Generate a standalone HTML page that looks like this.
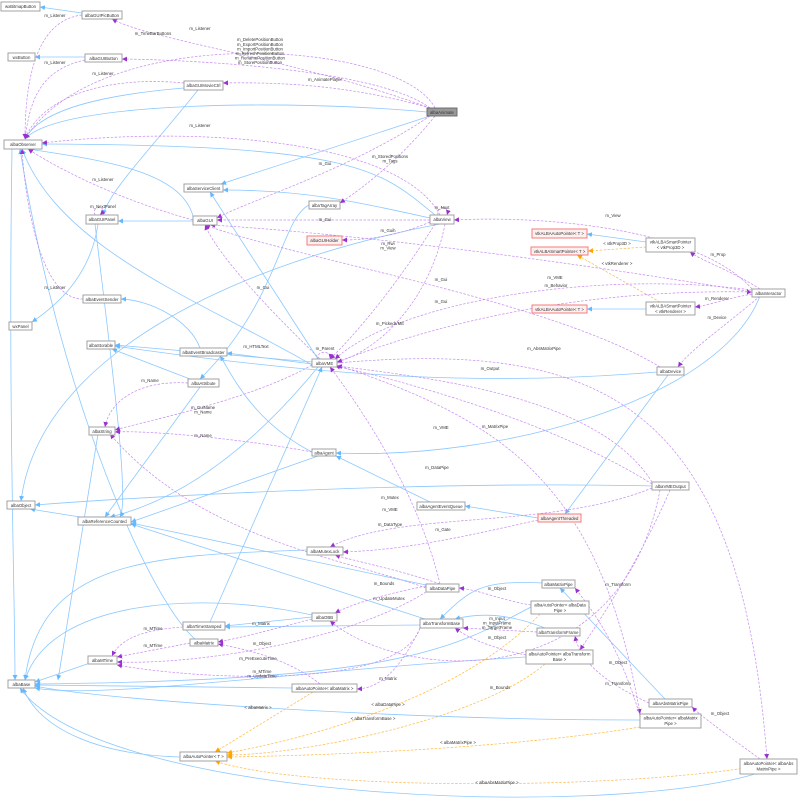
<!DOCTYPE html>
<html><head><meta charset="utf-8"><style>
html,body{margin:0;padding:0;background:#fff;}
svg{display:block;}
text{font-family:"Liberation Sans",sans-serif;font-size:4.3px;fill:#333;}
.n{fill:#fff;stroke:#999;stroke-width:0.9;}
.r{fill:#fff0f0;stroke:#f07070;stroke-width:0.9;}
.g{fill:#999;stroke:#666;stroke-width:0.9;}
.b{fill:none;stroke:#8cc8ff;stroke-width:0.8;marker-end:url(#ab);}
.p{fill:none;stroke:#c58af0;stroke-width:0.7;stroke-dasharray:2.5,1.5;marker-end:url(#ap);}
.o{fill:none;stroke:#ffb840;stroke-width:0.7;stroke-dasharray:2.5,1.5;marker-end:url(#ao);}
</style></head><body>
<svg width="799" height="804" viewBox="0 0 799 804" xmlns="http://www.w3.org/2000/svg">
<defs>
<marker id="ab" markerWidth="6" markerHeight="6" refX="5" refY="3" orient="auto" markerUnits="userSpaceOnUse"><path d="M0,0.5 L5,3 L0,5.5 z" fill="#63b8ff"/></marker>
<marker id="ap" markerWidth="6" markerHeight="6" refX="5" refY="3" orient="auto" markerUnits="userSpaceOnUse"><path d="M0,0.5 L5,3 L0,5.5 z" fill="#9a30d0"/></marker>
<marker id="ao" markerWidth="6" markerHeight="6" refX="5" refY="3" orient="auto" markerUnits="userSpaceOnUse"><path d="M0,0.5 L5,3 L0,5.5 z" fill="#ffa500"/></marker>
</defs>
<!-- blue edges -->
<path class="b" d="M82,13 L40,7"/>
<path class="b" d="M85,57 L35,57"/>
<path class="b" d="M184,88 C100,95 40,110 25,139"/>
<path class="b" d="M198,90 C150,150 110,190 103,215"/>
<path class="b" d="M427,112 C300,100 60,100 25,139"/>
<path class="b" d="M430,116 L221,184"/>
<path class="b" d="M435,215 C380,170 360,145 42,144"/>
<path class="b" d="M430,218 C350,200 300,190 223,190"/>
<path class="b" d="M193,216 C180,170 100,160 28,149"/>
<path class="b" d="M193,221 L118,221"/>
<path class="b" d="M98,224 C90,280 50,310 32,322"/>
<path class="b" d="M312,365 C200,300 60,250 22,149"/>
<path class="b" d="M312,362 L115,345"/>
<path class="b" d="M312,364 L227,353"/>
<path class="b" d="M318,367 C250,450 180,500 110,517"/>
<path class="b" d="M318,359 L210,192"/>
<path class="b" d="M309,205 C280,220 280,300 200,379"/>
<path class="b" d="M200,348 C190,320 150,300 121,299"/>
<path class="b" d="M190,379 L112,349"/>
<path class="b" d="M200,387 L105,517"/>
<path class="b" d="M98,434 L58,680"/>
<path class="b" d="M318,456 L131,522"/>
<path class="b" d="M312,452 C250,420 230,370 220,356"/>
<path class="b" d="M430,502 L336,456"/>
<path class="b" d="M538,518 L465,506"/>
<path class="b" d="M668,375 L565,514"/>
<path class="b" d="M760,296 C720,400 500,460 336,453"/>
<path class="b" d="M657,372 C500,385 350,380 115,346"/>
<path class="b" d="M652,486 C400,480 100,500 35,505"/>
<path class="b" d="M80,517 L30,509"/>
<path class="b" d="M440,224 C250,260 40,350 21,501"/>
<path class="b" d="M307,550 C150,555 40,560 25,680"/>
<path class="b" d="M426,585 L131,523"/>
<path class="b" d="M542,583 C480,580 470,590 440,619"/>
<path class="b" d="M312,617 L225,626"/>
<path class="b" d="M312,615 C200,590 50,600 25,680"/>
<path class="b" d="M210,622 L322,367"/>
<path class="b" d="M420,625 L225,627"/>
<path class="b" d="M425,619 L131,524"/>
<path class="b" d="M545,628 C500,610 470,615 455,619"/>
<path class="b" d="M195,639 C150,600 60,400 20,149"/>
<path class="b" d="M90,663 L35,682"/>
<path class="b" d="M292,688 L35,685"/>
<path class="b" d="M180,757 C100,755 40,730 23,688"/>
<path class="b" d="M755,774 C600,820 100,800 20,688"/>
<path class="b" d="M526,657 C300,670 100,700 35,688"/>
<path class="b" d="M640,720 C400,720 100,700 35,686"/>
<path class="b" d="M531,607 C450,650 400,680 35,684"/>
<path class="b" d="M665,699 L560,588"/>
<path class="b" d="M646,242 L587,234"/>
<path class="b" d="M646,309 L587,309"/>
<path class="b" d="M12,149 C8,400 15,600 15,680"/>
<path class="b" d="M95,224 C110,350 130,500 120,517"/>
<!-- orange -->
<path class="o" d="M646,247 L588,251"/>
<path class="o" d="M660,302 L577,255"/>
<path class="o" d="M313,692 L215,752"/>
<path class="o" d="M540,614 C460,700 300,740 227,753"/>
<path class="o" d="M545,664 C480,720 300,755 227,755"/>
<path class="o" d="M640,727 C500,750 300,756 227,757"/>
<path class="o" d="M745,768 C600,790 300,790 215,761"/>
<!-- purple -->
<path class="p" d="M82,15 C40,20 25,70 25,139"/>
<path class="p" d="M435,108 C400,40 100,20 25,139"/>
<path class="p" d="M430,108 C300,60 150,40 112,19"/>
<path class="p" d="M430,108 C380,70 200,60 122,59"/>
<path class="p" d="M85,60 C40,70 30,100 25,139"/>
<path class="p" d="M430,108 C350,85 280,82 223,83"/>
<path class="p" d="M184,83 C100,75 40,100 25,139"/>
<path class="p" d="M440,215 C400,140 200,125 42,143"/>
<path class="p" d="M430,116 C350,170 250,200 217,218"/>
<path class="p" d="M435,116 C400,160 360,190 340,203"/>
<path class="p" d="M193,220 C120,200 60,170 28,149"/>
<path class="p" d="M95,215 C90,205 110,205 100,215"/>
<path class="p" d="M83,299 C40,300 25,200 22,149"/>
<path class="p" d="M430,220 L217,220"/>
<path class="p" d="M430,222 C400,235 370,240 342,240"/>
<path class="p" d="M438,215 C436,205 450,205 447,215"/>
<path class="p" d="M435,224 C400,280 360,330 330,359"/>
<path class="p" d="M752,289 C700,230 550,215 454,220"/>
<path class="p" d="M760,289 C730,270 700,260 690,252"/>
<path class="p" d="M752,294 C720,300 710,305 695,307"/>
<path class="p" d="M760,296 C720,330 690,350 678,367"/>
<path class="p" d="M752,290 C600,270 400,300 335,359"/>
<path class="p" d="M337,362 C500,300 650,290 752,292"/>
<path class="p" d="M752,292 C500,250 300,230 210,225"/>
<path class="p" d="M660,367 C550,300 300,260 205,225"/>
<path class="p" d="M320,359 C280,320 220,260 205,225"/>
<path class="p" d="M445,224 C430,300 380,350 337,362"/>
<path class="p" d="M318,359 C316,350 332,350 330,359"/>
<path class="p" d="M312,365 C250,400 150,420 115,430"/>
<path class="p" d="M188,383 C140,380 110,400 105,427"/>
<path class="p" d="M312,452 C250,440 150,430 115,432"/>
<path class="p" d="M652,484 C550,420 400,380 335,366"/>
<path class="p" d="M440,584 C420,500 370,420 330,367"/>
<path class="p" d="M652,482 C600,400 450,380 337,366"/>
<path class="p" d="M337,363 C600,340 740,400 767,759"/>
<path class="p" d="M337,365 C500,420 600,480 640,714"/>
<path class="p" d="M538,520 C450,540 400,550 343,552"/>
<path class="p" d="M426,588 C350,560 200,540 110,434"/>
<path class="p" d="M426,586 C380,595 350,605 335,613"/>
<path class="p" d="M440,584 C400,570 350,560 335,555"/>
<path class="p" d="M652,488 C550,530 400,510 330,547"/>
<path class="p" d="M312,619 C270,630 240,638 218,642"/>
<path class="p" d="M183,627 C140,630 120,640 112,656"/>
<path class="p" d="M190,643 L117,657"/>
<path class="p" d="M426,592 C350,640 200,665 117,662"/>
<path class="p" d="M420,628 C400,690 200,680 117,665"/>
<path class="p" d="M320,684 C290,660 250,650 218,644"/>
<path class="p" d="M420,628 C400,670 380,688 357,689"/>
<path class="p" d="M531,605 C500,600 480,590 459,588"/>
<path class="p" d="M537,632 L463,628"/>
<path class="p" d="M526,655 C500,650 470,640 455,628"/>
<path class="p" d="M670,490 C640,560 600,620 580,650"/>
<path class="p" d="M660,490 C620,700 400,680 330,621"/>
<path class="p" d="M649,703 C600,680 580,660 575,636"/>
<path class="p" d="M640,716 C620,650 600,620 575,588"/>
<path class="p" d="M760,759 C720,730 700,715 692,707"/>
<!-- nodes -->
<rect class="n" x="1" y="2" width="39" height="9"/><text x="20.5" y="8.2" text-anchor="middle">wxBitmapButton</text>
<rect class="n" x="82" y="11" width="40" height="8"/><text x="102" y="16.8" text-anchor="middle">albaGUIPicButton</text>
<rect class="n" x="8" y="53" width="27" height="8"/><text x="21.5" y="58.8" text-anchor="middle">wxButton</text>
<rect class="n" x="85" y="54" width="37" height="8"/><text x="103.5" y="59.8" text-anchor="middle">albaGUIButton</text>
<rect class="n" x="184" y="81" width="39" height="9"/><text x="203.5" y="87.2" text-anchor="middle">albaGUIMovieCtrl</text>
<rect class="g" x="427" y="108" width="30" height="8"/><text x="442" y="113.8" text-anchor="middle">albaAnimate</text>
<rect class="n" x="4" y="140" width="38" height="9"/><text x="23" y="146.2" text-anchor="middle">albaObserver</text>
<rect class="n" x="184" y="184" width="39" height="8"/><text x="203.5" y="189.8" text-anchor="middle">albaServiceClient</text>
<rect class="n" x="309" y="201" width="31" height="8"/><text x="324.5" y="206.8" text-anchor="middle">albaTagArray</text>
<rect class="n" x="86" y="215" width="32" height="9"/><text x="102" y="221.2" text-anchor="middle">albaGUIPanel</text>
<rect class="n" x="193" y="216" width="24" height="9"/><text x="205" y="222.2" text-anchor="middle">albaGUI</text>
<rect class="n" x="430" y="215" width="24" height="9"/><text x="442" y="221.2" text-anchor="middle">albaView</text>
<rect class="r" x="307" y="236" width="35" height="9"/><text x="324.5" y="242.2" text-anchor="middle">albaGUIHolder</text>
<rect class="r" x="532" y="229" width="55" height="9"/><text x="559.5" y="235.2" text-anchor="middle">vtkALBAAutoPointer&lt; T &gt;</text>
<rect class="n" x="646" y="238" width="49" height="14"/><text x="670.5" y="243.5" text-anchor="middle">vtkALBASmartPointer</text><text x="670.5" y="249" text-anchor="middle">&lt; vtkProp3D &gt;</text>
<rect class="r" x="531" y="247" width="57" height="8"/><text x="559.5" y="252.8" text-anchor="middle">vtkALBASmartPointer&lt; T &gt;</text>
<rect class="n" x="752" y="289" width="33" height="8"/><text x="768.5" y="294.8" text-anchor="middle">albaInteractor</text>
<rect class="r" x="532" y="305" width="55" height="8"/><text x="559.5" y="310.8" text-anchor="middle">vtkALBAAutoPointer&lt; T &gt;</text>
<rect class="n" x="646" y="302" width="49" height="13"/><text x="670.5" y="307.5" text-anchor="middle">vtkALBASmartPointer</text><text x="670.5" y="313" text-anchor="middle">&lt; vtkRenderer &gt;</text>
<rect class="n" x="83" y="295" width="38" height="8"/><text x="102" y="300.8" text-anchor="middle">albaEventSender</text>
<rect class="n" x="9" y="322" width="23" height="8"/><text x="20.5" y="327.8" text-anchor="middle">wxPanel</text>
<rect class="n" x="87" y="341" width="28" height="8"/><text x="101" y="346.8" text-anchor="middle">albaStorable</text>
<rect class="n" x="180" y="348" width="47" height="8"/><text x="203.5" y="353.8" text-anchor="middle">albaEventBroadcaster</text>
<rect class="n" x="312" y="359" width="25" height="8"/><text x="324.5" y="364.8" text-anchor="middle">albaVME</text>
<rect class="n" x="188" y="379" width="31" height="8"/><text x="203.5" y="384.8" text-anchor="middle">albaAttribute</text>
<rect class="n" x="657" y="367" width="27" height="8"/><text x="670.5" y="372.8" text-anchor="middle">albaDevice</text>
<rect class="n" x="89" y="427" width="26" height="8"/><text x="102" y="432.8" text-anchor="middle">albaString</text>
<rect class="n" x="312" y="449" width="24" height="7"/><text x="324" y="454.3" text-anchor="middle">albaAgent</text>
<rect class="n" x="652" y="482" width="37" height="8"/><text x="670.5" y="487.8" text-anchor="middle">albaVMEOutput</text>
<rect class="n" x="7" y="501" width="28" height="8"/><text x="21" y="506.8" text-anchor="middle">albaObject</text>
<rect class="n" x="417" y="502" width="48" height="8"/><text x="441" y="507.8" text-anchor="middle">albaAgentEventQueue</text>
<rect class="r" x="538" y="514" width="43" height="8"/><text x="559.5" y="519.8" text-anchor="middle">albaAgentThreaded</text>
<rect class="n" x="78" y="517" width="53" height="8"/><text x="104.5" y="522.8" text-anchor="middle">albaReferenceCounted</text>
<rect class="n" x="307" y="547" width="36" height="8"/><text x="325" y="552.8" text-anchor="middle">albaMutexLock</text>
<rect class="n" x="426" y="584" width="33" height="8"/><text x="442.5" y="589.8" text-anchor="middle">albaDataPipe</text>
<rect class="n" x="542" y="580" width="33" height="8"/><text x="558.5" y="585.8" text-anchor="middle">albaMatrixPipe</text>
<rect class="n" x="531" y="601" width="58" height="13"/><text x="560" y="606.5" text-anchor="middle">albaAutoPointer&lt; albaData</text><text x="560" y="612" text-anchor="middle">Pipe &gt;</text>
<rect class="n" x="312" y="613" width="25" height="8"/><text x="324.5" y="618.8" text-anchor="middle">albaOBB</text>
<rect class="n" x="183" y="622" width="42" height="8"/><text x="204" y="627.8" text-anchor="middle">albaTimeStamped</text>
<rect class="n" x="420" y="619" width="43" height="9"/><text x="441.5" y="625.2" text-anchor="middle">albaTransformBase</text>
<rect class="n" x="537" y="628" width="43" height="8"/><text x="558.5" y="633.8" text-anchor="middle">albaTransformFrame</text>
<rect class="n" x="190" y="639" width="28" height="7"/><text x="204" y="644.3" text-anchor="middle">albaMatrix</text>
<rect class="n" x="88" y="656" width="29" height="8"/><text x="102.5" y="661.8" text-anchor="middle">albaMTime</text>
<rect class="n" x="526" y="650" width="67" height="14"/><text x="559.5" y="655.5" text-anchor="middle">albaAutoPointer&lt; albaTransform</text><text x="559.5" y="661" text-anchor="middle">Base &gt;</text>
<rect class="n" x="8" y="680" width="27" height="8"/><text x="21.5" y="685.8" text-anchor="middle">albaBase</text>
<rect class="n" x="292" y="684" width="65" height="8"/><text x="324.5" y="689.8" text-anchor="middle">albaAutoPointer&lt; albaMatrix &gt;</text>
<rect class="n" x="649" y="699" width="43" height="8"/><text x="670.5" y="704.8" text-anchor="middle">albaAbsMatrixPipe</text>
<rect class="n" x="640" y="714" width="61" height="14"/><text x="670.5" y="719.5" text-anchor="middle">albaAutoPointer&lt; albaMatrix</text><text x="670.5" y="725" text-anchor="middle">Pipe &gt;</text>
<rect class="n" x="180" y="752" width="47" height="9"/><text x="203.5" y="758.2" text-anchor="middle">albaAutoPointer&lt; T &gt;</text>
<rect class="n" x="740" y="759" width="57" height="15"/><text x="768.5" y="765" text-anchor="middle">albaAutoPointer&lt; albaAbs</text><text x="768.5" y="770.5" text-anchor="middle">MatrixPipe &gt;</text>
<!-- edge labels -->
<g text-anchor="middle">
<text x="55" y="17">m_Listener</text>
<text x="200" y="30">m_Listener</text>
<text x="153" y="35">m_TimeBarButtons</text>
<text x="260" y="41">m_DeletePositionButton</text><text x="260" y="46">m_ExportPositionButton</text><text x="260" y="50.5">m_ImportPositionButton</text><text x="260" y="55">m_RefreshPositionButton</text><text x="260" y="59.5">m_RenamePositionButton</text><text x="260" y="64">m_StorePositionButton</text>
<text x="55" y="64">m_Listener</text>
<text x="103" y="75">m_Listener</text>
<text x="325" y="81">m_AnimatePlayer</text>
<text x="200" y="127">m_Listener</text>
<text x="325" y="165">m_Gui</text>
<text x="390" y="158">m_StoredPositions</text><text x="390" y="162.5">m_Tags</text>
<text x="103" y="181">m_Listener</text>
<text x="103" y="208">m_NextPanel</text>
<text x="442" y="209">m_Next</text>
<text x="325" y="221">m_Gui</text>
<text x="388" y="232">m_Guih</text>
<text x="388" y="245">m_Rwi</text><text x="388" y="249.5">m_View</text>
<text x="613" y="217">m_View</text>
<text x="718" y="256">m_Prop</text>
<text x="617" y="245">&lt; vtkProp3D &gt;</text>
<text x="617" y="265">&lt; vtkRenderer &gt;</text>
<text x="55" y="289">m_Listener</text>
<text x="441" y="281">m_Gui</text>
<text x="555" y="279">m_VME</text>
<text x="556" y="287">m_Behavior</text>
<text x="717" y="300">m_Renderer</text>
<text x="263" y="289">m_Gui</text>
<text x="441" y="303">m_Gui</text>
<text x="717" y="319">m_Device</text>
<text x="390" y="325">m_PickedVME</text>
<text x="256" y="348">m_HTMLText</text>
<text x="325" y="350">m_Parent</text>
<text x="544" y="350">m_AbsMatrixPipe</text>
<text x="490" y="370">m_Output</text>
<text x="150" y="382">m_Name</text>
<text x="203" y="409">m_GuiName</text><text x="203" y="413.5">m_Name</text>
<text x="441" y="429">m_VME</text>
<text x="495" y="428">m_MatrixPipe</text>
<text x="203" y="437">m_Name</text>
<text x="437" y="469">m_DataPipe</text>
<text x="390" y="499">m_Mutex</text>
<text x="390" y="511">m_VME</text>
<text x="390" y="526">m_DataType</text>
<text x="443" y="531">m_Gate</text>
<text x="384" y="585">m_Bounds</text>
<text x="497" y="590">m_Object</text>
<text x="618" y="586">m_Transform</text>
<text x="389" y="600">m_UpdateMutex</text>
<text x="497" y="620">m_Input</text><text x="497" y="624.5">m_InputFrame</text><text x="497" y="629">m_TargetFrame</text>
<text x="261" y="625">m_Matrix</text>
<text x="153" y="630">m_MTime</text>
<text x="497" y="639">m_Object</text>
<text x="262" y="645">m_Object</text>
<text x="153" y="647">m_MTime</text>
<text x="258" y="660">m_PreExecuteTime</text>
<text x="618" y="664">m_Object</text>
<text x="262" y="673">m_MTime</text><text x="262" y="677.5">m_UpdateTime</text>
<text x="388" y="680">m_Matrix</text>
<text x="618" y="685">m_Transform</text>
<text x="500" y="689">m_Bounds</text>
<text x="388" y="706">&lt; albaDataPipe &gt;</text>
<text x="258" y="709">&lt; albaMatrix &gt;</text>
<text x="720" y="715">m_Object</text>
<text x="373" y="720">&lt; albaTransformBase &gt;</text>
<text x="458" y="744">&lt; albaMatrixPipe &gt;</text>
<text x="497" y="784">&lt; albaAbsMatrixPipe &gt;</text>
</g>
</svg>
</body></html>
